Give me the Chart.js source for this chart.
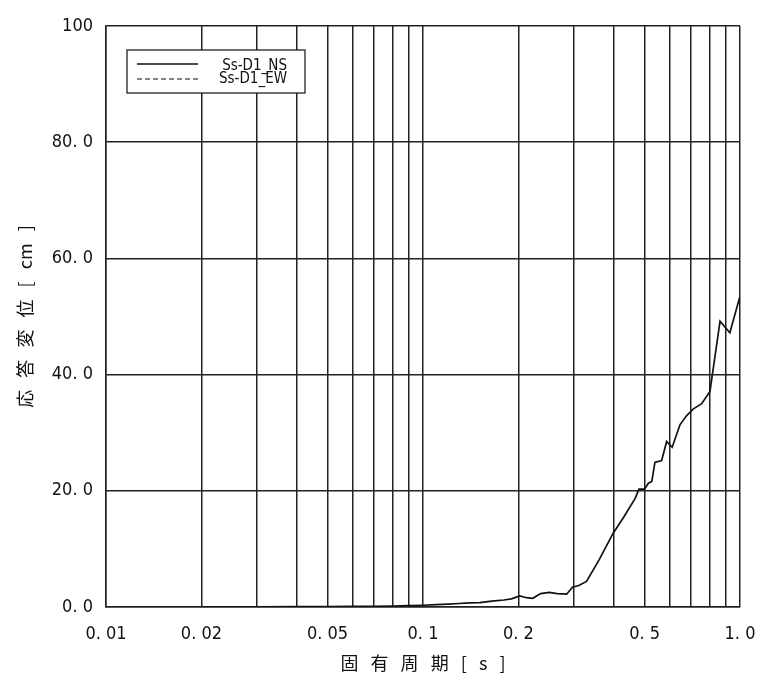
<!DOCTYPE html>
<html>
<head>
<meta charset="utf-8">
<script src="https://cdn.jsdelivr.net/npm/chart.js@4/dist/chart.umd.min.js"></script>
<style>
  html, body { margin: 0; padding: 0; background: #fff; }
  #wrap { width: 758px; height: 678px; }
</style>
</head>
<body>
<div id="wrap"><canvas id="chart" width="758" height="678"></canvas></div>
<script>
// natural period [s]
const periods = [0.02, 0.03, 0.04, 0.05, 0.06, 0.07, 0.08, 0.09, 0.1, 0.11, 0.12, 0.13, 0.14,
  0.151, 0.165, 0.18, 0.19, 0.202, 0.212, 0.222, 0.235, 0.25, 0.265, 0.284, 0.296, 0.31,
  0.328, 0.36, 0.398, 0.43, 0.467, 0.48, 0.5, 0.514, 0.527, 0.539, 0.566, 0.587, 0.611,
  0.647, 0.68, 0.713, 0.757, 0.804, 0.865, 0.929, 1.0];
// response displacement [cm], Ss-D1_NS
const nsValues = [0.02, 0.03, 0.05, 0.07, 0.1, 0.13, 0.17, 0.22, 0.3, 0.4, 0.5, 0.6, 0.7,
  0.75, 1.0, 1.2, 1.4, 1.9, 1.6, 1.5, 2.3, 2.5, 2.3, 2.2, 3.4, 3.7,
  4.4, 8.2, 12.7, 15.5, 18.7, 20.3, 20.3, 21.3, 21.6, 24.9, 25.2, 28.5, 27.5,
  31.4, 33.0, 34.1, 35.0, 37.1, 49.2, 47.2, 53.5];
// Ss-D1_EW is listed in the legend but not visible in the plot
const ewValues = [];

const seriesLabels = ['Ss-D1_NS', 'Ss-D1_EW'];
const xGridValues = [0.01, 0.02, 0.03, 0.04, 0.05, 0.06, 0.07, 0.08, 0.09,
  0.1, 0.2, 0.3, 0.4, 0.5, 0.6, 0.7, 0.8, 0.9, 1.0];
const xTickLabels = { 0.01: '0. 01', 0.02: '0. 02', 0.05: '0. 05', 0.1: '0. 1',
  0.2: '0. 2', 0.5: '0. 5', 1.0: '1. 0' };
const yTickLabels = { 0: '0. 0', 20: '20. 0', 40: '40. 0', 60: '60. 0', 80: '80. 0', 100: '100' };

const tickFont = "'Liberation Sans Narrow', 'DejaVu Sans Condensed', 'Liberation Sans', sans-serif";
const cjkFont = "'Noto Sans CJK JP', sans-serif";

const toPoints = (xs, ys) => ys.map((y, i) => ({ x: xs[i], y: y }));

// legend drawn as a white framed box inside the plot area
const boxLegend = {
  id: 'boxLegend',
  afterDraw(chart) {
    const ctx = chart.ctx;
    const area = chart.chartArea;
    const left = area.left + 21;
    const top = area.top + 24;
    const w = 178, h = 43;
    ctx.save();
    ctx.fillStyle = '#fff';
    ctx.fillRect(left, top, w, h);
    ctx.strokeStyle = '#222';
    ctx.lineWidth = 1.3;
    ctx.strokeRect(left, top, w, h);
    ctx.font = '15px ' + tickFont;
    ctx.textAlign = 'right';
    ctx.textBaseline = 'middle';
    chart.data.datasets.forEach((ds, i) => {
      const y = top + 14 + i * 15;
      ctx.beginPath();
      ctx.strokeStyle = '#111';
      ctx.lineWidth = i === 0 ? 1.6 : 1;
      ctx.setLineDash(ds.borderDash || []);
      ctx.moveTo(left + 10, y);
      ctx.lineTo(left + 71, y);
      ctx.stroke();
      ctx.setLineDash([]);
      ctx.fillStyle = '#111';
      ctx.fillText(ds.label, left + 160, y + 2 - i * 2);
    });
    ctx.restore();
  }
};

new Chart(document.getElementById('chart'), {
  type: 'line',
  data: {
    datasets: [
      {
        label: seriesLabels[0],
        data: toPoints(periods, nsValues),
        borderColor: '#111',
        borderWidth: 1.7,
        pointRadius: 0,
        tension: 0
      },
      {
        label: seriesLabels[1],
        data: toPoints(periods, ewValues),
        borderColor: '#111',
        borderWidth: 1,
        borderDash: [5, 3],
        pointRadius: 0,
        tension: 0
      }
    ]
  },
  options: {
    responsive: false,
    animation: false,
    layout: { padding: { top: 26, right: 18, left: 0, bottom: 0 } },
    plugins: {
      legend: { display: false },
      tooltip: { enabled: false }
    },
    scales: {
      x: {
        type: 'logarithmic',
        min: 0.01,
        max: 1.0,
        afterBuildTicks: (scale) => {
          scale.ticks = xGridValues.map(v => ({ value: v }));
        },
        afterFit: (scale) => {
          scale.height = 71;
          scale.paddingLeft = 0;
          scale.paddingRight = 0;
        },
        grid: { color: '#222', lineWidth: 1.5, drawTicks: false },
        border: { color: '#222', width: 1.5 },
        ticks: {
          autoSkip: false,
          maxRotation: 0,
          padding: 17,
          color: '#111',
          font: { family: tickFont, size: 18 },
          callback: (value) => {
            const key = Object.keys(xTickLabels).find(k => Math.abs(Number(k) - value) < 1e-9);
            return key ? xTickLabels[key] : '';
          }
        },
        title: {
          display: true,
          text: '固   有   周   期   [   s   ]',
          color: '#111',
          font: { family: cjkFont, size: 18 },
          padding: { top: 0, bottom: 4 }
        }
      },
      y: {
        min: 0,
        max: 100,
        afterFit: (scale) => { scale.width = 106; },
        grid: { color: '#222', lineWidth: 1.5, drawTicks: false },
        border: { color: '#222', width: 1.5 },
        ticks: {
          stepSize: 20,
          padding: 13,
          color: '#111',
          font: { family: tickFont, size: 18 },
          callback: (value) => yTickLabels[value] !== undefined ? yTickLabels[value] : ''
        },
        title: {
          display: true,
          text: '応   答   変   位   [   cm   ]',
          color: '#111',
          font: { family: cjkFont, size: 18 },
          padding: { top: 14, bottom: 0 }
        }
      }
    }
  },
  plugins: [boxLegend]
});
</script>
</body>
</html>
